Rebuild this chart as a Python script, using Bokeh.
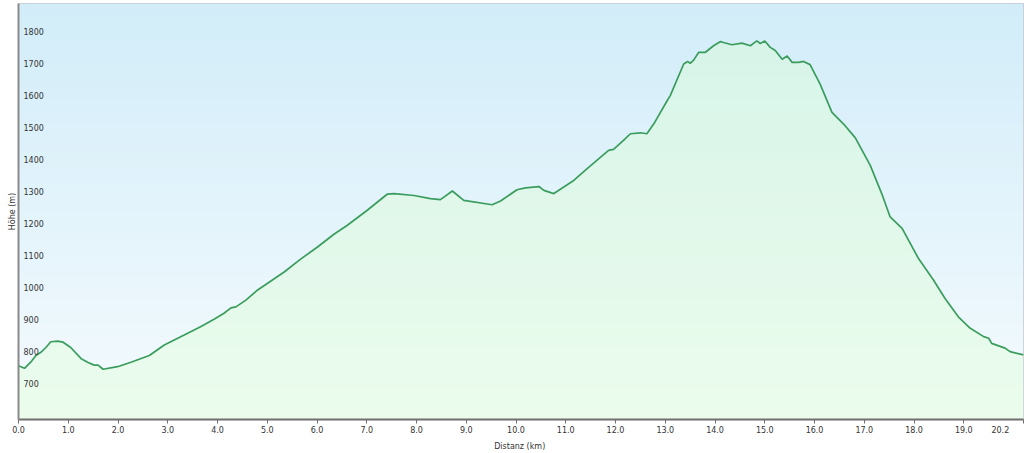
import numpy as np
from bokeh.plotting import figure
from bokeh.models import FixedTicker, Range1d
from bokeh.core.properties import value
from bokeh.embed import file_html
from bokeh.resources import INLINE

# ---- data ----
distance_km = [0.0, 0.12, 0.25, 0.35, 0.45, 0.55, 0.65, 0.79, 0.89, 1.05, 1.26, 1.40, 1.52, 1.60, 1.70,
               1.99, 2.26, 2.63, 2.93, 3.33, 3.66, 3.93, 4.13, 4.27, 4.37, 4.57, 4.80, 5.00, 5.34, 5.67,
               6.01, 6.34, 6.61, 7.01, 7.41, 7.55, 7.95, 8.28, 8.48, 8.72, 8.95, 9.52, 9.69, 10.02, 10.19,
               10.46, 10.56, 10.76, 11.16, 11.43, 11.86, 11.96, 12.16, 12.30, 12.50, 12.63, 12.77, 13.04,
               13.10, 13.37, 13.45, 13.50, 13.57, 13.67, 13.80, 13.97, 14.11, 14.17, 14.34, 14.54, 14.71,
               14.84, 14.91, 15.00, 15.11, 15.21, 15.35, 15.45, 15.55, 15.68, 15.78, 15.91, 16.11, 16.35,
               16.58, 16.82, 17.12, 17.35, 17.52, 17.76, 18.09, 18.39, 18.62, 18.89, 19.13, 19.40, 19.50,
               19.56, 19.83, 19.93, 20.2]
elevation_m = [768, 760, 780, 800, 810, 825, 843, 845, 842, 825, 790, 778, 770, 770, 757,
               765, 779, 800, 833, 864, 890, 913, 932, 949, 952, 973, 1004, 1025, 1061, 1101,
               1139, 1179, 1207, 1254, 1304, 1306, 1300, 1290, 1287, 1314, 1285, 1271, 1283, 1318, 1324,
               1328, 1316, 1306, 1347, 1384, 1441, 1444, 1472, 1493, 1496, 1493, 1524, 1597,
               1612, 1711, 1719, 1713, 1723, 1747, 1747, 1768, 1781, 1778, 1771, 1776, 1768,
               1783, 1775, 1783, 1763, 1753, 1726, 1736, 1716, 1716, 1719, 1709, 1649, 1560,
               1524, 1480, 1394, 1306, 1233, 1197, 1103, 1036, 979, 921, 885, 859, 854,
               838, 823, 812, 802]
y_ticks = [700, 800, 900, 1000, 1100, 1200, 1300, 1400, 1500, 1600, 1700, 1800]
y_tick_labels = [str(v) for v in y_ticks]
x_ticks = [0, 1, 2, 3, 4, 5, 6, 7, 8, 9, 10, 11, 12, 13, 14, 15, 16, 17, 18, 19, 20.2]
x_tick_labels = ["0.0", "1.0", "2.0", "3.0", "4.0", "5.0", "6.0", "7.0", "8.0", "9.0", "10.0",
                 "11.0", "12.0", "13.0", "14.0", "15.0", "16.0", "17.0", "18.0", "19.0", "20.2"]
x_min, x_max = 0, 20.2
y_min, y_max = 600, 1900

FONT = "DejaVu Sans"
TXT = "#333333"

p = figure(width=1024, height=453, output_backend="svg", toolbar_location=None,
           x_range=Range1d(x_min, x_max), y_range=Range1d(y_min, y_max),
           min_border_left=18, min_border_right=1, min_border_top=3, min_border_bottom=33,
           border_fill_color="white", outline_line_color="#c4c8cc", outline_line_width=1)

# background vertical gradient
n = 160
img = np.empty((n, 1), dtype=np.uint32)
view = img.view(dtype=np.uint8).reshape((n, 1, 4))
t = np.linspace(0, 1, n)  # 0 bottom, 1 top
bottom_c = np.array([245, 251, 254])
top_c = np.array([210, 237, 249])
for k in range(3):
    view[:, 0, k] = (bottom_c[k] + (top_c[k] - bottom_c[k]) * t).astype(np.uint8)
view[:, 0, 3] = 255
p.image_rgba(image=[img], x=x_min, y=y_min, dw=x_max - x_min, dh=y_max - y_min)

p.varea(x=distance_km, y1=[y_min] * len(distance_km), y2=elevation_m,
        fill_color="#dcffd0", fill_alpha=0.38)
p.line(distance_km, elevation_m, line_color="#3a9d5d", line_width=1.7)

# y labels inside plot
p.text(x=[x_min] * len(y_ticks), y=y_ticks, text=y_tick_labels, x_offset=5, y_offset=-1,
       text_baseline="bottom", text_align="left", text_font=value(FONT),
       text_font_size="8px", text_color=TXT)

p.xgrid.visible = False
p.ygrid.ticker = FixedTicker(ticks=y_ticks)
p.ygrid.grid_line_color = "#c6cdd3"
p.ygrid.grid_line_width = 1

xa = p.xaxis[0]
xa.ticker = FixedTicker(ticks=x_ticks)
overrides = {t_: l_ for t_, l_ in zip(x_ticks, x_tick_labels)}
# keep the last label inside the canvas (figure spaces pad it leftwards)
overrides[x_ticks[-1]] = x_tick_labels[-1] + "\u2007\u2007\u2007"
xa.major_label_overrides = overrides
xa.axis_line_color = "#6f6f6f"
xa.axis_line_width = 2
xa.major_tick_line_color = "#6f6f6f"
xa.major_tick_out = 4
xa.major_tick_in = 0
xa.minor_tick_line_color = None
xa.major_label_standoff = 2
xa.major_label_text_font = FONT
xa.major_label_text_font_size = "8px"
xa.major_label_text_color = TXT
xa.axis_label = "Distanz  (km)"
xa.axis_label_text_font = FONT
xa.axis_label_text_font_size = "8px"
xa.axis_label_text_font_style = "normal"
xa.axis_label_text_color = TXT
xa.axis_label_standoff = 4

ya = p.yaxis[0]
ya.ticker = FixedTicker(ticks=[])
ya.major_tick_line_color = None
ya.minor_tick_line_color = None
ya.axis_line_color = "#8a8a8a"
ya.axis_line_width = 2
ya.axis_label = "Höhe (m)"
ya.axis_label_text_font = FONT
ya.axis_label_text_font_size = "8px"
ya.axis_label_text_font_style = "normal"
ya.axis_label_text_color = TXT
ya.axis_label_standoff = 2

open("out.html", "w").write(file_html(p, INLINE))
